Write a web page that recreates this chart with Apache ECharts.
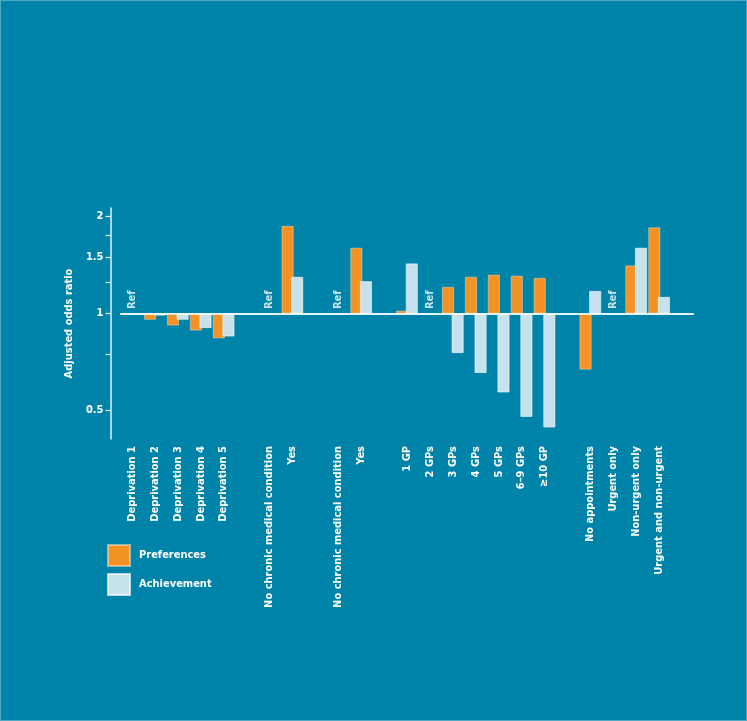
<!DOCTYPE html>
<html>
<head>
<meta charset="utf-8">
<script src="https://cdn.jsdelivr.net/npm/echarts@6/dist/echarts.min.js"></script>
<style>
html,body{margin:0;padding:0;background:#0083a8;}
#chart{width:747px;height:721px;box-sizing:border-box;border:1px solid #4fa9c4;}
</style>
</head>
<body>
<div id="chart"></div>
<script>
const categories = [
  'Deprivation 1','Deprivation 2','Deprivation 3','Deprivation 4','Deprivation 5','',
  'No chronic medical condition','Yes','',
  'No chronic medical condition','Yes','',
  '1 GP','2 GPs','3 GPs','4 GPs','5 GPs','6–9 GPs','≥10 GP','',
  'No appointments','Urgent only','Non-urgent only','Urgent and non-urgent',''
];
const preferences = [
  null,0.957,0.918,0.886,0.838,null,
  null,1.87,null,
  null,1.60,null,
  1.02,null,1.21,1.30,1.32,1.31,1.29,null,
  0.67,null,1.41,1.85,null
];
const achievement = [
  null,0.986,0.957,0.902,0.849,null,
  null,1.30,null,
  null,1.26,null,
  1.43,null,0.754,0.654,0.569,0.478,0.443,null,
  1.175,null,1.60,1.126,null
];
const refFlags = [
  1,0,0,0,0,0,
  1,0,0,
  1,0,0,
  0,1,0,0,0,0,0,0,
  0,1,0,0,0
];
const yTickValues = [0.5,0.75,1,1.25,1.5,1.75,2];
const yLabelValues = [0.5,1,1.5,2];
const yMin = 0.408, yMax = 2.126;

const FONT = '"Liberation Sans Narrow","DejaVu Sans Condensed","Roboto",sans-serif';
const toLog = v => (v == null ? null : Math.log2(v));

const refData = [];
refFlags.forEach((f,i) => { if (f) refData.push([i, 0]); });

const chart = echarts.init(document.getElementById('chart'));
chart.setOption({
  backgroundColor: '#0083a8',
  animation: false,
  grid: {left: 119.5, right: 52.5, top: 207, bottom: 281},
  legend: {
    orient: 'vertical', left: 106, top: 543, padding: 0,
    icon: 'rect',
    itemWidth: 22, itemHeight: 21, itemGap: 6,
    textStyle: {color: '#ffffff', fontSize: 11, fontWeight: 'bold', fontFamily: FONT, padding: [0,0,0,4]},
    data: ['Preferences','Achievement']
  },
  xAxis: {
    type: 'category', data: categories,
    axisLine: {show: true, lineStyle: {color: '#cbe8f1', width: 1.5}},
    axisTick: {show: false},
    axisLabel: {interval: 0, rotate: 90, margin: 7, color: '#ffffff', fontSize: 11, fontWeight: 'bold', fontFamily: FONT},
    splitLine: {show: false}
  },
  yAxis: {
    type: 'value', min: Math.log2(yMin), max: Math.log2(yMax), offset: 10,
    name: 'Adjusted odds ratio', nameLocation: 'middle', nameGap: 25,
    nameTextStyle: {color: '#ffffff', fontSize: 11, fontWeight: 'bold', fontFamily: FONT},
    axisLine: {show: true, lineStyle: {color: '#e3f2f7', width: 1.5}},
    axisTick: {show: true, length: 5, customValues: yTickValues.map(Math.log2), lineStyle: {color: '#e3f2f7', width: 1.2}},
    axisLabel: {customValues: yLabelValues.map(Math.log2), margin: 7, color: '#ffffff', fontSize: 11, fontWeight: 'bold', fontFamily: FONT,
      formatter: v => String(Math.round(Math.pow(2, v) * 100) / 100)},
    splitLine: {show: false}
  },
  series: [
    {
      name: 'Preferences', type: 'bar', data: preferences.map(toLog),
      barWidth: 12, barGap: '-20%',
      itemStyle: {color: '#f39325', borderColor: 'rgba(255,230,200,0.55)', borderWidth: 0.8},
      markLine: {
        silent: true, symbol: 'none', label: {show: false},
        lineStyle: {color: '#ffffff', width: 1.5, type: 'solid'},
        data: [{yAxis: 0}]
      }
    },
    {
      name: 'Achievement', type: 'bar', data: achievement.map(toLog),
      barWidth: 12, barGap: '-20%',
      itemStyle: {color: '#c6e2ec', borderColor: 'rgba(255,255,255,0.7)', borderWidth: 0.8}
    },
    {
      name: 'Ref', type: 'scatter', data: refData, symbolSize: 1,
      itemStyle: {color: 'rgba(0,0,0,0)'}, silent: true,
      label: {show: true, formatter: 'Ref', position: 'top', distance: 4, rotate: 90,
        align: 'left', verticalAlign: 'middle', color: '#ffffff', fontSize: 11, fontWeight: 'bold', fontFamily: FONT}
    }
  ]
});
</script>
</body>
</html>
